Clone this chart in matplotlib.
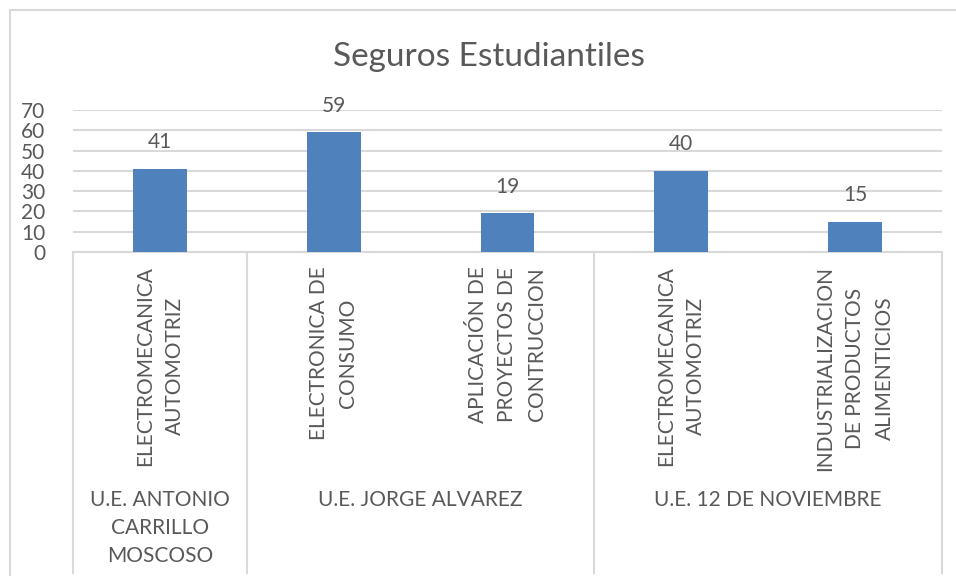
import matplotlib.pyplot as plt
import matplotlib.transforms as mtransforms
from matplotlib.lines import Line2D

programs = ["ELECTROMECANICA\nAUTOMOTRIZ",
            "ELECTRONICA DE\nCONSUMO",
            "APLICACIÓN DE\nPROYECTOS DE\nCONTRUCCION",
            "ELECTROMECANICA\nAUTOMOTRIZ",
            "INDUSTRIALIZACION\nDE PRODUCTOS\nALIMENTICIOS"]
values = [41, 59, 19, 40, 15]
schools = ["U.E. ANTONIO\nCARRILLO\nMOSCOSO", "U.E. JORGE ALVAREZ", "U.E. 12 DE NOVIEMBRE"]
school_sizes = [1, 2, 2]
yticks = [0, 10, 20, 30, 40, 50, 60, 70]

W, H = 956, 583
text_color = "#595959"
line_color = "#d9d9d9"
plt.rcParams['font.family'] = ['Lato', 'DejaVu Sans']

fig = plt.figure(figsize=(W / 100, H / 100), dpi=100)
ax = fig.add_axes([73 / W, (H - 252) / H, 869 / W, 142 / H])

x = list(range(len(values)))
ax.bar(x, values, width=0.31, color="#4F81BD", zorder=3)
for xi, v in zip(x, values):
    ax.annotate(str(v), (xi, v), xytext=(0, 12), textcoords="offset points",
                ha="center", va="bottom", fontsize=15, color=text_color)

ax.set_xlim(-0.5, len(values) - 0.5)
ax.set_ylim(0, 70)
ax.set_yticks(yticks)
ax.set_yticklabels([str(t) for t in yticks], fontsize=15, color=text_color)
ax.tick_params(axis="y", length=0, pad=20)
ax.set_xticks([])
ax.grid(axis="y", color=line_color, linewidth=1.5, zorder=0)
for s in ["top", "right", "left"]:
    ax.spines[s].set_visible(False)
ax.spines["bottom"].set_color(line_color)
ax.spines["bottom"].set_linewidth(1.5)

# category box below the axis
trans = mtransforms.blended_transform_factory(ax.transData, fig.transFigure)
bottom_y = (H - 573) / H
edges = [-0.5]
for n in school_sizes:
    edges.append(edges[-1] + n)
for e in edges:
    fig.add_artist(Line2D([e, e], [(H - 252) / H, bottom_y], transform=trans,
                          color=line_color, linewidth=1.5))

for xi, label in zip(x, programs):
    fig.text(xi, (H - 266) / H, label, transform=trans, rotation=90,
             ha="center", va="top", multialignment="center",
             fontsize=15, color=text_color, linespacing=1.6)

for i, (school, n) in enumerate(zip(schools, school_sizes)):
    cx = (edges[i] + edges[i + 1]) / 2
    fig.text(cx, (H - 490) / H, school, transform=trans, ha="center", va="top",
             multialignment="center", fontsize=15, color=text_color, linespacing=1.5)

fig.text(489 / W, (H - 57) / H, "Seguros Estudiantiles", ha="center", va="center",
         fontsize=24, color=text_color)

# outer chart border
fig.add_artist(Line2D([10 / W, 1], [(H - 10) / H, (H - 10) / H], color=line_color, linewidth=1.5))
fig.add_artist(Line2D([10 / W, 10 / W], [(H - 10) / H, (H - 575) / H], color=line_color, linewidth=1.5))

fig.savefig("out.png", dpi=100)
